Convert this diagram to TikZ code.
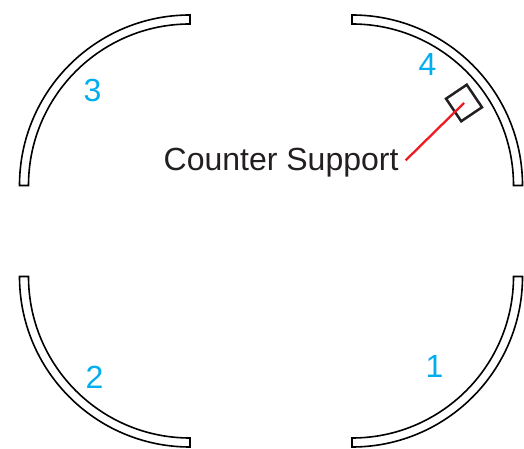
\documentclass[tikz,border=0pt]{standalone}
\usepackage{fontspec}
\setmainfont{Liberation Sans}
\definecolor{numblue}{HTML}{00AEEF}
\definecolor{inkdark}{HTML}{231F20}
\definecolor{leadred}{HTML}{ED1C24}
\tikzset{
  rail/.style={draw=black,line width=1.6pt,line join=miter},
  numlabel/.style={font=\fontsize{32}{36}\selectfont,text=numblue,inner sep=0pt},
  caption/.style={font=\fontsize{32}{36}\selectfont,text=inkdark,inner sep=0pt},
  support/.style={draw=inkdark,line width=2.5pt,minimum width=27.2pt,minimum height=25pt,inner sep=0pt,rotate=-56},
  leader/.style={draw=leadred,line width=2.3pt}
}
\begin{document}
\begin{tikzpicture}[x=1pt,y=1pt]
\useasboundingbox (0,0) rectangle (524,449);
% top right (4): centre (352,264)
\draw[rail] (352,434) arc[start angle=90,end angle=0,radius=170.5] -- ++(-9,0) arc[start angle=0,end angle=90,radius=161.5] -- cycle;
% bottom right (1): centre (352,172)
\draw[rail] (352,2) arc[start angle=-90,end angle=0,radius=170.5] -- ++(-9,0) arc[start angle=0,end angle=-90,radius=161.5] -- cycle;
% top left (3): centre (190,264)
\draw[rail] (190,434) arc[start angle=90,end angle=180,radius=170.5] -- ++(9,0) arc[start angle=180,end angle=90,radius=161.5] -- cycle;
% bottom left (2): centre (190,172)
\draw[rail] (190,2) arc[start angle=-90,end angle=-180,radius=170.5] -- ++(9,0) arc[start angle=-180,end angle=-90,radius=161.5] -- cycle;
\node[numlabel] (n4) at (427.5,385) {4};
\node[numlabel] (n3) at (92.5,359) {3};
\node[numlabel] (n2) at (94.5,72) {2};
\node[numlabel] (n1) at (434.5,83) {1};
\node[caption,anchor=base west] (cs) at (163.5,278) {Counter Support};
\node[support] (sq) at (464,346) {};
\coordinate (lead) at (405.7,288.7);
\draw[leader] (lead) -- (sq.center);
\end{tikzpicture}
\end{document}
